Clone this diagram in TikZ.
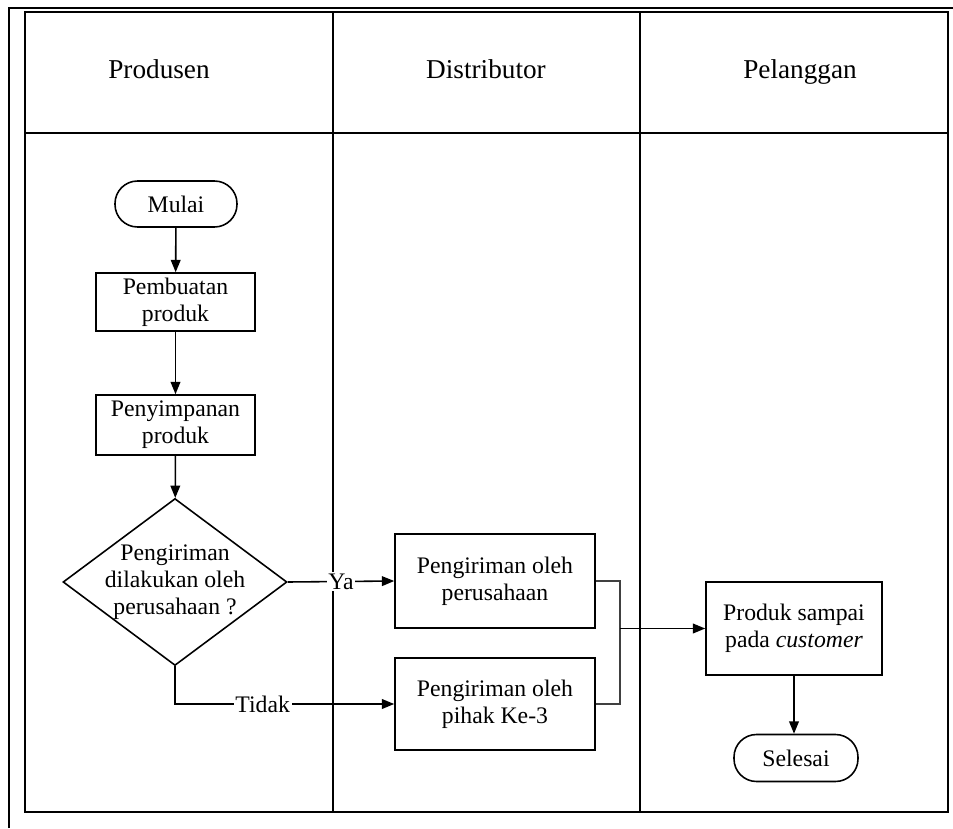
\documentclass[tikz,border=0pt]{standalone}
\usepackage{fontspec}
\setmainfont{Liberation Serif}
\usetikzlibrary{arrows.meta,shapes.geometric}
\tikzset{>={Triangle[length=7pt,width=5.5pt]},every node/.style={font=\fontsize{13.5}{15.5}\selectfont},
lajur/.style={line width=1pt},judul/.style={font=\fontsize{15.5}{18}\selectfont,anchor=base},
proses/.style={draw,line width=.9pt,align=center,inner sep=1pt},
terminal/.style={draw,line width=.9pt,rounded corners=.45cm,minimum height=.92cm,inner sep=1pt},
keputusan/.style={draw,line width=.9pt,diamond,minimum width=4.48cm,minimum height=3.34cm,inner sep=0pt},
alur/.style={line width=.9pt,->},gabungan/.style={line width=1pt,black!75}}

\begin{document}
\begin{tikzpicture}[x=.02cm,y=-.02cm]
\useasboundingbox (0,0) rectangle (953,828);
% bingkai dan lajur
\draw[line width=.9pt] (9,828)--(9,8)--(953,8);
\draw[lajur] (25,12) rectangle (948,812);\draw[lajur] (25,133)--(948,133);
\draw[lajur] (333,12)--(333,812);\draw[lajur] (640,12)--(640,812);
\node[judul] (h1) at (159,79){Produsen};\node[judul] (h2) at (486,79){Distributor};\node[judul] (h3) at (800,79){Pelanggan};
% simbol
\node[terminal,minimum width=2.44cm] (mulai) at (176,204){Mulai};
\node[proses,minimum width=3.18cm,minimum height=1.16cm] (buat) at (175.5,302){Pembuatan\\produk};
\node[proses,minimum width=3.18cm,minimum height=1.2cm] (simpan) at (175.5,425){Penyimpanan\\produk};
\node[keputusan] (cek) at (175,582){};\node[align=center] (cektxt) at (175,582){Pengiriman\\dilakukan oleh\\perusahaan ?};
\node[proses,minimum width=4cm,minimum height=1.88cm] (kirim1) at (495,581){Pengiriman oleh\\perusahaan};
\node[proses,minimum width=4cm,minimum height=1.84cm] (kirim2) at (495,704){Pengiriman oleh\\pihak Ke-3};
\node[proses,minimum width=3.52cm,minimum height=1.86cm] (produk) at (794,628.5){Produk sampai\\pada \textit{customer}};
\node[terminal,minimum width=2.48cm,minimum height=.94cm] (selesai) at (796,758){Selesai};
% alur
\draw[alur] (mulai)--(buat);\draw[alur] (buat)--(simpan);\draw[alur] (simpan)--(cek);
\draw[alur] (cek.east)-- node[fill=white,inner sep=1pt]{Ya} (kirim1.west);
\draw[alur] (cek.south)|- node[pos=.7,fill=white,inner sep=1pt]{Tidak} (kirim2.west);
\coordinate (gabung) at (620,628.5);
\draw[gabungan] (kirim1.east)-|(gabung)|-(kirim2.east);
\draw[alur] (gabung)--(produk.west);\draw[alur] (produk.south)--(produk.south|-selesai.north);
\end{tikzpicture}
\end{document}
